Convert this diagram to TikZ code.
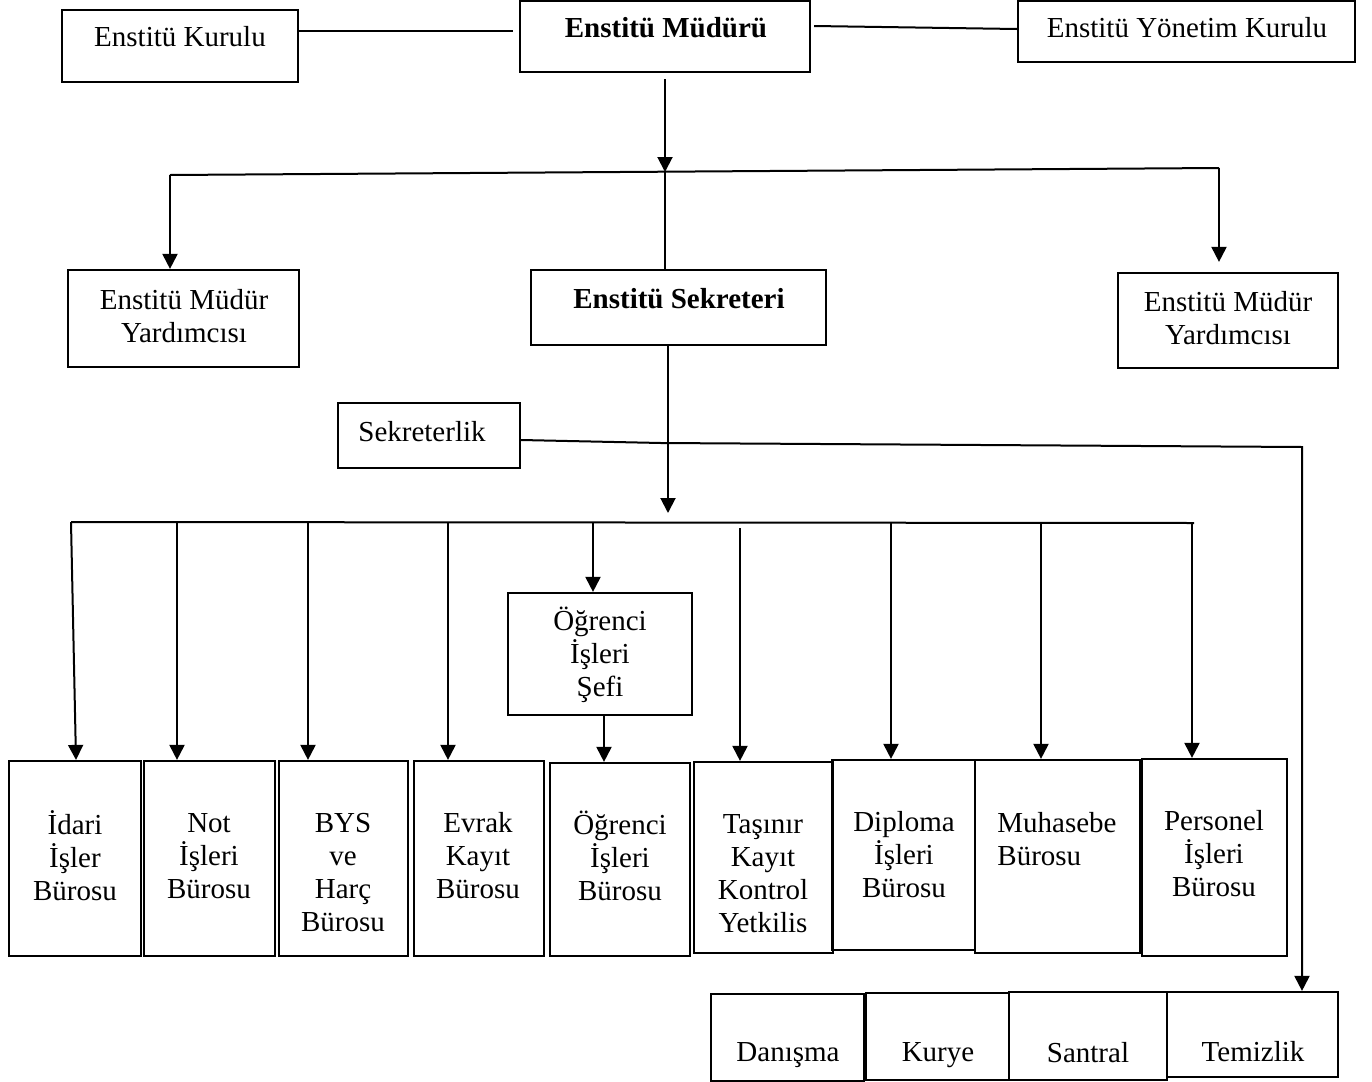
\documentclass[tikz,border=0pt]{standalone}
\usepackage{fontspec}
\setmainfont{Liberation Serif}
\usetikzlibrary{arrows.meta,fit}
\tikzset{
  bx/.style={draw, line width=1.1pt, inner sep=0pt},
  lbl/.style={inner sep=0pt, align=center, font=\fontsize{14.5pt}{16.5pt}\selectfont},
  blbl/.style={lbl, font=\fontsize{14.5pt}{16.5pt}\selectfont\bfseries},
  ln/.style={line width=1pt},
  arr/.style={ln, -{Triangle[length=7.5pt,width=7.5pt]}},
}
\begin{document}
\begin{tikzpicture}[x=0.5pt,y=-0.5pt]
\useasboundingbox (0,0) rectangle (1372,1082);

% ---- boxes ----
\node[bx, fit={(62,10) (298,82)}] (kurulu) {};
\node[bx, fit={(520,1) (810,72)}] (mudur) {};
\node[bx, fit={(1018,1) (1355,62)}] (yonetim) {};
\node[bx, fit={(68,270) (299,367)}] (yard1) {};
\node[bx, fit={(531,270) (826,345)}] (sek) {};
\node[bx, fit={(1118,273) (1338,368)}] (yard2) {};
\node[bx, fit={(338,403) (520,468)}] (sekl) {};
\node[bx, fit={(508,593) (692,715)}] (sefi) {};
\node[bx, fit={(9,761) (141,956)}] (idari) {};
\node[bx, fit={(144,761) (275,956)}] (not) {};
\node[bx, fit={(279,761) (408,956)}] (bys) {};
\node[bx, fit={(414,761) (544,956)}] (evrak) {};
\node[bx, fit={(550,763) (690,956)}] (ogr) {};
\node[bx, fit={(694,762) (833,953)}] (tasinir) {};
\node[bx, fit={(832,760) (975,950)}] (diploma) {};
\node[bx, fit={(975,760) (1140,953)}] (muhasebe) {};
\node[bx, fit={(1142,759) (1287,956)}] (personel) {};
\node[bx, fit={(711,994) (864,1081)}] (danisma) {};
\node[bx, fit={(866,993) (1009,1080)}] (kurye) {};
\node[bx, fit={(1009,992) (1167,1080)}] (santral) {};
\node[bx, fit={(1167,992) (1338,1077)}] (temizlik) {};

% ---- labels ----
\node[lbl] (tKurulu) at (180,37) {Enstitü Kurulu};
\node[blbl] (tMudur) at (666,28) {Enstitü Müdürü};
\node[lbl] (tYonetim) at (1187,28) {Enstitü Yönetim Kurulu};
\node[lbl] (tYard1) at (184,316) {Enstitü Müdür\\Yardımcısı};
\node[blbl] (tSek) at (679,299) {Enstitü Sekreteri};
\node[lbl] (tYard2) at (1228,318) {Enstitü Müdür\\Yardımcısı};
\node[lbl] (tSekl) at (422,432) {Sekreterlik};
\node[lbl] (tSefi) at (600,655) {Öğrenci\\İşleri\\Şefi};
\node[lbl] (tIdari) at (75,856) {İdari\\İşler\\Bürosu};
\node[lbl] (tNot) at (209,856) {Not\\İşleri\\Bürosu};
\node[lbl] (tBys) at (343,873) {BYS\\ve\\Harç\\Bürosu};
\node[lbl] (tEvrak) at (478,856) {Evrak\\Kayıt\\Bürosu};
\node[lbl] (tOgr) at (620,856) {Öğrenci\\İşleri\\Bürosu};
\node[lbl] (tTasinir) at (763,874) {Taşınır\\Kayıt\\Kontrol\\Yetkilis};
\node[lbl] (tDiploma) at (904,855) {Diploma\\İşleri\\Bürosu};
\node[lbl, align=left, anchor=west] (tMuhasebe) at (997,839) {Muhasebe\\Bürosu};
\node[lbl] (tPersonel) at (1214,854) {Personel\\İşleri\\Bürosu};
\node[lbl] (tDanisma) at (788,1055) {Danışma};
\node[lbl] (tKurye) at (938,1055) {Kurye};
\node[lbl] (tSantral) at (1088,1053) {Santral};
\node[lbl] (tTemizlik) at (1253,1052) {Temizlik};

% ---- junction coordinates ----
\coordinate (L1) at (0,31);
\coordinate (L2) at (0,26);
\coordinate (L3) at (0,29);
\coordinate (J1) at (665,172);
\coordinate (hA) at (170,175);
\coordinate (hB) at (1219,168);
\coordinate (J2) at (668,513);
\coordinate (sA) at (661,443);
\coordinate (sB) at (1302,447);
\coordinate (bIdari) at (71,522);
\coordinate (bNot) at (177,522);
\coordinate (bBys) at (308,522);
\coordinate (bEvrak) at (448,522);
\coordinate (bSefi) at (593,522);
\coordinate (bTas) at (740,528);
\coordinate (bDip) at (891,522);
\coordinate (bMuh) at (1041,522);
\coordinate (bPer) at (1192,523);
\coordinate (bEnd) at (1194,523);
\coordinate (xOgr) at (604,0);

% ---- top connectors ----
\draw[ln] (kurulu.east |- L1) -- ([xshift=-3pt]mudur.west |- L1);
\draw[ln] ([xshift=1.5pt]mudur.east |- L2) -- (yonetim.west |- L3);
\draw[arr] ([yshift=-3pt]J1 |- mudur.south) -- (J1);
\draw[ln] (hA) -- (hB);
\draw[arr] (hA) -- (hA |- yard1.north);
\draw[arr] (hB) -- ([yshift=5pt]hB |- yard2.north);
\draw[ln] (J1) -- (J1 |- sek.north);
\draw[arr] (J2 |- sek.south) -- (J2);

% ---- Sekreterlik line ----
\draw[arr] (sekl.east |- 0,440) -- (sA) -- (sB) -- (sB |- temizlik.north);

% ---- bus ----
\draw[ln] (bIdari) -- (bEnd);
\draw[arr] (bIdari) -- ([xshift=2.5pt]bIdari |- idari.north);
\draw[arr] (bNot) -- (bNot |- not.north);
\draw[arr] (bBys) -- (bBys |- bys.north);
\draw[arr] (bEvrak) -- (bEvrak |- evrak.north);
\draw[arr] (bSefi) -- (bSefi |- sefi.north);
\draw[arr] (xOgr |- sefi.south) -- (xOgr |- ogr.north);
\draw[arr] (bTas) -- (bTas |- tasinir.north);
\draw[arr] (bDip) -- (bDip |- diploma.north);
\draw[arr] (bMuh) -- (bMuh |- muhasebe.north);
\draw[arr] (bPer) -- (bPer |- personel.north);
\end{tikzpicture}
\end{document}
